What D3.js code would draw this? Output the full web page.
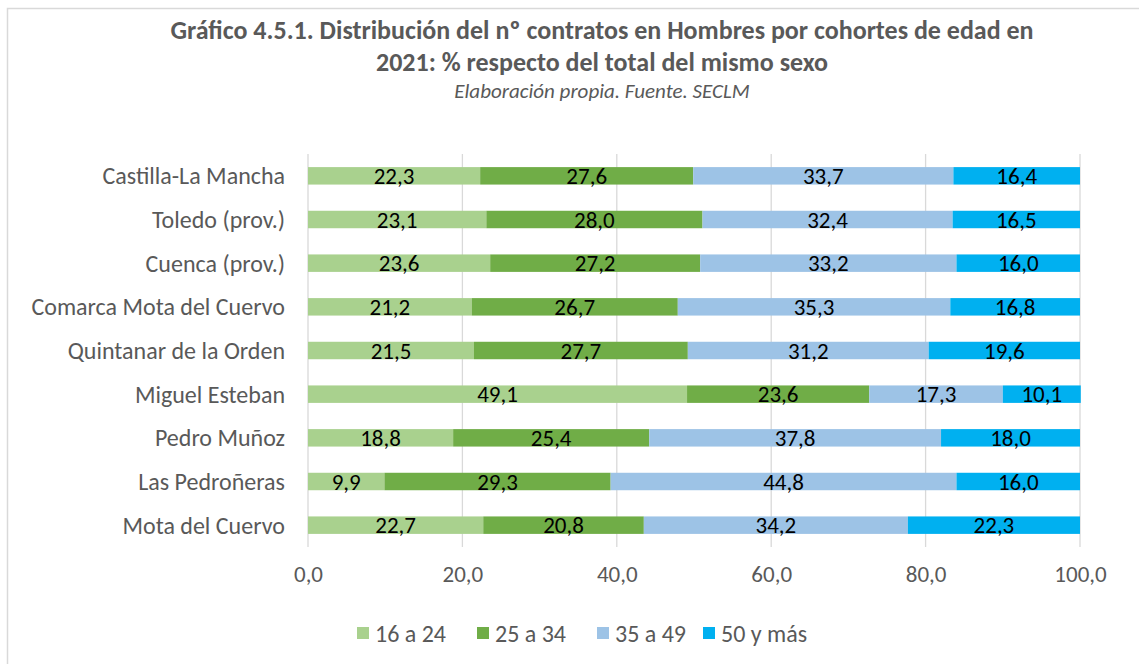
<!DOCTYPE html>
<html>
<head>
<meta charset="utf-8">
<script src="https://cdn.jsdelivr.net/npm/d3@7"></script>
<style>
  html, body { margin: 0; padding: 0; background: #fff; }
  svg { display: block; font-family: Carlito, Calibri, Lato, sans-serif; }
</style>
</head>
<body>
<svg id="chart" width="1139" height="664"></svg>
<script>
// Categories (top to bottom) and age cohorts
const categories = [
  "Castilla-La Mancha", "Toledo (prov.)", "Cuenca (prov.)", "Comarca Mota del Cuervo",
  "Quintanar de la Orden", "Miguel Esteban", "Pedro Muñoz", "Las Pedroñeras", "Mota del Cuervo"
];
const seriesNames = ["16 a 24", "25 a 34", "35 a 49", "50 y más"];
const seriesColors = ["#A9D18E", "#70AD47", "#9DC3E6", "#00B0F0"];

// Percentage of contracts per cohort, one array per cohort, in category order
const s16a24  = [22.3, 23.1, 23.6, 21.2, 21.5, 49.1, 18.8,  9.9, 22.7];
const s25a34  = [27.6, 28.0, 27.2, 26.7, 27.7, 23.6, 25.4, 29.3, 20.8];
const s35a49  = [33.7, 32.4, 33.2, 35.3, 31.2, 17.3, 37.8, 44.8, 34.2];
const s50mas  = [16.4, 16.5, 16.0, 16.8, 19.6, 10.1, 18.0, 16.0, 22.3];

const tickValues = [0, 20, 40, 60, 80, 100];

const svg = d3.select("#chart");
const W = 1139, H = 664;
const fmt = v => d3.format(".1f")(v).replace(".", ",");

// Chart area border (right and bottom edges run past the canvas)
svg.append("rect")
  .attr("x", 7.5).attr("y", 8.5).attr("width", W).attr("height", H)
  .attr("fill", "#fff").attr("stroke", "#d9d9d9").attr("stroke-width", 1.5);

// Titles
svg.append("text").attr("x", 602).attr("y", 39).attr("text-anchor", "middle")
  .attr("font-size", 26).attr("font-weight", "bold").attr("fill", "#595959")
  .text("Gráfico 4.5.1. Distribución del nº contratos en Hombres por cohortes de edad en");
svg.append("text").attr("x", 602).attr("y", 71).attr("text-anchor", "middle")
  .attr("font-size", 26).attr("font-weight", "bold").attr("fill", "#595959")
  .text("2021: % respecto del total del mismo sexo");
svg.append("text").attr("x", 602).attr("y", 98).attr("text-anchor", "middle")
  .attr("font-size", 21).attr("font-style", "italic").attr("fill", "#595959")
  .text("Elaboración propia. Fuente. SECLM");

// Stack the cohorts
const rows = categories.map((c, i) => ({
  cat: c,
  "16 a 24": s16a24[i], "25 a 34": s25a34[i], "35 a 49": s35a49[i], "50 y más": s50mas[i]
}));
const stacked = d3.stack().keys(seriesNames)(rows);

const x = d3.scaleLinear().domain([0, 100]).range([308, 1080]);
const y = d3.scaleBand().domain(categories).range([154, 547]).paddingInner(0.6).paddingOuter(0.3);

// Vertical gridlines
svg.append("g").selectAll("line").data(tickValues).join("line")
  .attr("x1", d => x(d)).attr("x2", d => x(d))
  .attr("y1", 154).attr("y2", 547)
  .attr("stroke", "#d9d9d9").attr("stroke-width", 1.3);

// Bars
const groups = svg.append("g").selectAll("g").data(stacked).join("g")
  .attr("fill", (d, i) => seriesColors[i]);
groups.selectAll("rect").data(d => d).join("rect")
  .attr("x", d => x(d[0]))
  .attr("width", d => x(d[1]) - x(d[0]))
  .attr("y", d => y(d.data.cat))
  .attr("height", y.bandwidth());

// Value labels
groups.selectAll("text").data(d => d.map(v => ({ v, key: d.key }))).join("text")
  .attr("x", d => (x(d.v[0]) + x(d.v[1])) / 2)
  .attr("y", d => y(d.v.data.cat) + y.bandwidth() / 2)
  .attr("dy", "0.36em")
  .attr("text-anchor", "middle")
  .attr("font-size", 23).attr("fill", "#000")
  .text(d => fmt(d.v.data[d.key]));

// Category axis (left)
const yAxis = svg.append("g").attr("transform", "translate(308,0)")
  .call(d3.axisLeft(y).tickSize(0).tickPadding(23))
  .attr("font-family", null).attr("font-size", null);
yAxis.select(".domain").remove();
yAxis.selectAll("text").attr("font-size", 24).attr("fill", "#595959").attr("dy", "0.36em");

// Value axis (bottom)
const xAxis = svg.append("g").attr("transform", "translate(0,547)")
  .call(d3.axisBottom(x).tickValues(tickValues).tickSize(0).tickPadding(19).tickFormat(fmt))
  .attr("font-family", null).attr("font-size", null);
xAxis.select(".domain").remove();
xAxis.selectAll("text").attr("font-size", 23).attr("fill", "#595959");

// Legend
const legendX = [357, 477, 597, 703];
const legend = svg.append("g").selectAll("g").data(seriesNames).join("g")
  .attr("transform", (d, i) => `translate(${legendX[i]},627)`);
legend.append("rect").attr("width", 12).attr("height", 12)
  .attr("fill", (d, i) => seriesColors[i]);
legend.append("text").attr("x", 18).attr("y", 6).attr("dy", "0.36em")
  .attr("font-size", 24).attr("fill", "#595959").text(d => d);
</script>
</body>
</html>
